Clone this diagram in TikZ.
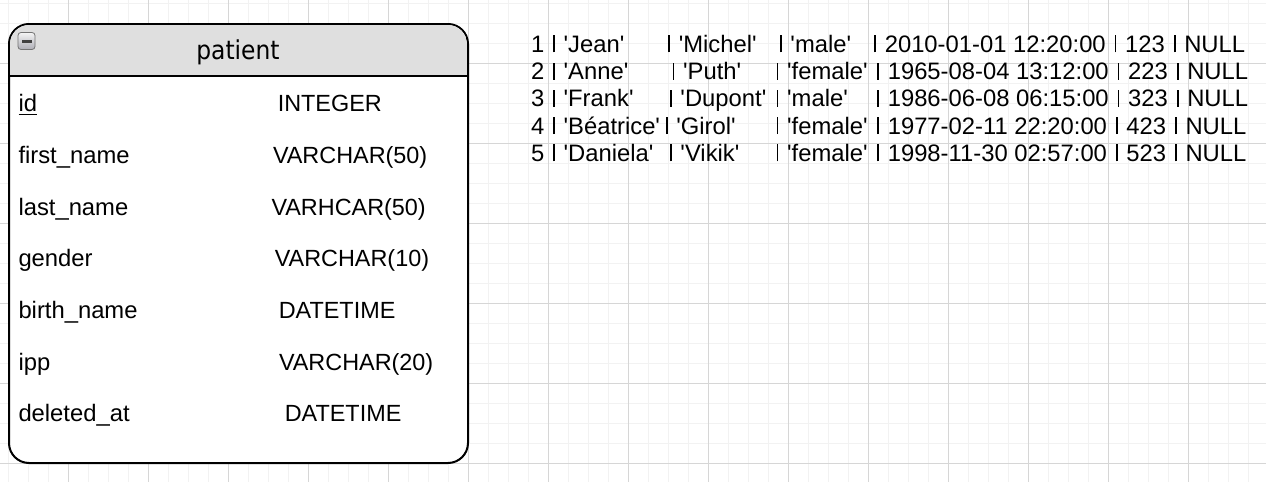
\documentclass[tikz,border=0pt]{standalone}
\usepackage{fontspec}
\setmainfont{Liberation Sans}
\newfontfamily\headfont{DejaVu Sans}
\newcommand\qv[1]{\textquotesingle#1\textquotesingle}
\newcommand\seg[2]{\makebox[#1pt][l]{#2}}
\newcommand\pipe{\hspace{1.07pt}\rule{0.95pt}{8.5pt}\hspace{1.07pt}}
\definecolor{headgray}{HTML}{DFDFDF}

\begin{document}
\begin{tikzpicture}[
  x=0.5pt, y=-0.5pt,
  every node/.style={inner sep=0pt, outer sep=0pt, anchor=base west},
  field/.style={font=\fontsize{11.7}{14}\selectfont},
  fname/.style={font=\fontsize{11.9}{14}\selectfont},
  datarow/.style={font=\fontsize{11.9}{14}\selectfont},
  tablebox/.style={draw, line width=1pt, fill=white, rounded corners=10pt, minimum width=229.5pt, minimum height=219.5pt, anchor=north west},
  gridminor/.style={draw=black!5, line width=0.75pt},
  gridmajor/.style={draw=black!16, line width=0.5pt}
  ]
\useasboundingbox (0,0) rectangle (1266,482);

% Background grid
\foreach \gx in {8.3,28.3,...,1268.3} \draw[gridminor] (\gx,0) -- (\gx,482);
\foreach \gy in {3.3,23.3,...,483.3} \draw[gridminor] (0,\gy) -- (1266,\gy);
\foreach \gx in {68.3,148.3,...,1268.3} \draw[gridmajor] (\gx,0) -- (\gx,482);
\foreach \gy in {63.3,143.3,...,463.3} \draw[gridmajor] (0,\gy) -- (1266,\gy);

% Table box
\node[tablebox] (patient) at (9,24) {};
\begin{scope}
  \clip[rounded corners=9.5pt] (10,25) rectangle (467,462);
  \fill[headgray] (10,25) rectangle (467,76);
\end{scope}
\draw[line width=1pt] (9,76) -- (468,76);
\node[draw=black!55, rounded corners=1.5pt, top color=black!4, bottom color=blue!10!black!32, minimum size=8.5pt, anchor=north west] (collapse) at (18,32.5) {};
\fill[black!75] (21.5,40) rectangle (31.5,42.5);
\node[font=\headfont\fontsize{13}{15}\selectfont, xscale=0.9, anchor=base] (title) at (238,60) {patient};

% Fields
\node[fname] (fid) at (18.5,111.7) {\underline{id}};
\node[fname] (ffirst) at (18.5,163.3) {first\_name};
\node[fname] (flast) at (18.5,215) {last\_name};
\node[fname] (fgender) at (18.5,266.7) {gender};
\node[fname] (fbirth) at (18.5,318.3) {birth\_name};
\node[fname] (fipp) at (18.5,370) {ipp};
\node[fname] (fdeleted) at (18.5,421.7) {deleted\_at};

\node[field] (tid) at (277.8,111.7) {INTEGER};
\node[field] (tfirst) at (273,163.3) {VARCHAR(50)};
\node[field] (tlast) at (271.5,215) {VARHCAR(50)};
\node[field] (tgender) at (274.8,266.7) {VARCHAR(10)};
\node[field] (tbirth) at (278.8,318.3) {DATETIME};
\node[field] (tipp) at (279,370) {VARCHAR(20)};
\node[field] (tdeleted) at (284.8,421.7) {DATETIME};

% Rows
\node[datarow] (row1) at (531,52.3) {\seg{67.5}{1 \pipe{} \qv{Jean}}\seg{55.85}{\pipe{} \qv{Michel}}\seg{47.15}{\pipe{} \qv{male}}\pipe{} 2010-01-01 12:20:00 \pipe{} 123 \pipe{} NULL};
\node[datarow] (row2) at (531,79.6) {\seg{69.7}{2 \pipe{} \qv{Anne}}\seg{52}{\pipe{} \qv{Puth}}\seg{50.3}{\pipe{} \qv{female}}\pipe{} 1965-08-04 13:12:00 \pipe{} 223 \pipe{} NULL};
\node[datarow] (row3) at (531,106.9) {\seg{68.35}{3 \pipe{} \qv{Frank}}\seg{53.35}{\pipe{} \qv{Dupont}}\seg{50.3}{\pipe{} \qv{male}}\pipe{} 1986-06-08 06:15:00 \pipe{} 323 \pipe{} NULL};
\node[datarow] (row4) at (531,134.1) {\seg{66.3}{4 \pipe{} \qv{Béatrice}}\seg{55.4}{\pipe{} \qv{Girol}}\seg{50.3}{\pipe{} \qv{female}}\pipe{} 1977-02-11 22:20:00 \pipe{} 423 \pipe{} NULL};
\node[datarow] (row5) at (531,161.3) {\seg{68.35}{5 \pipe{} \qv{Daniela}}\seg{53.35}{\pipe{} \qv{Vikik}}\seg{50.3}{\pipe{} \qv{female}}\pipe{} 1998-11-30 02:57:00 \pipe{} 523 \pipe{} NULL};

\end{tikzpicture}
\end{document}
